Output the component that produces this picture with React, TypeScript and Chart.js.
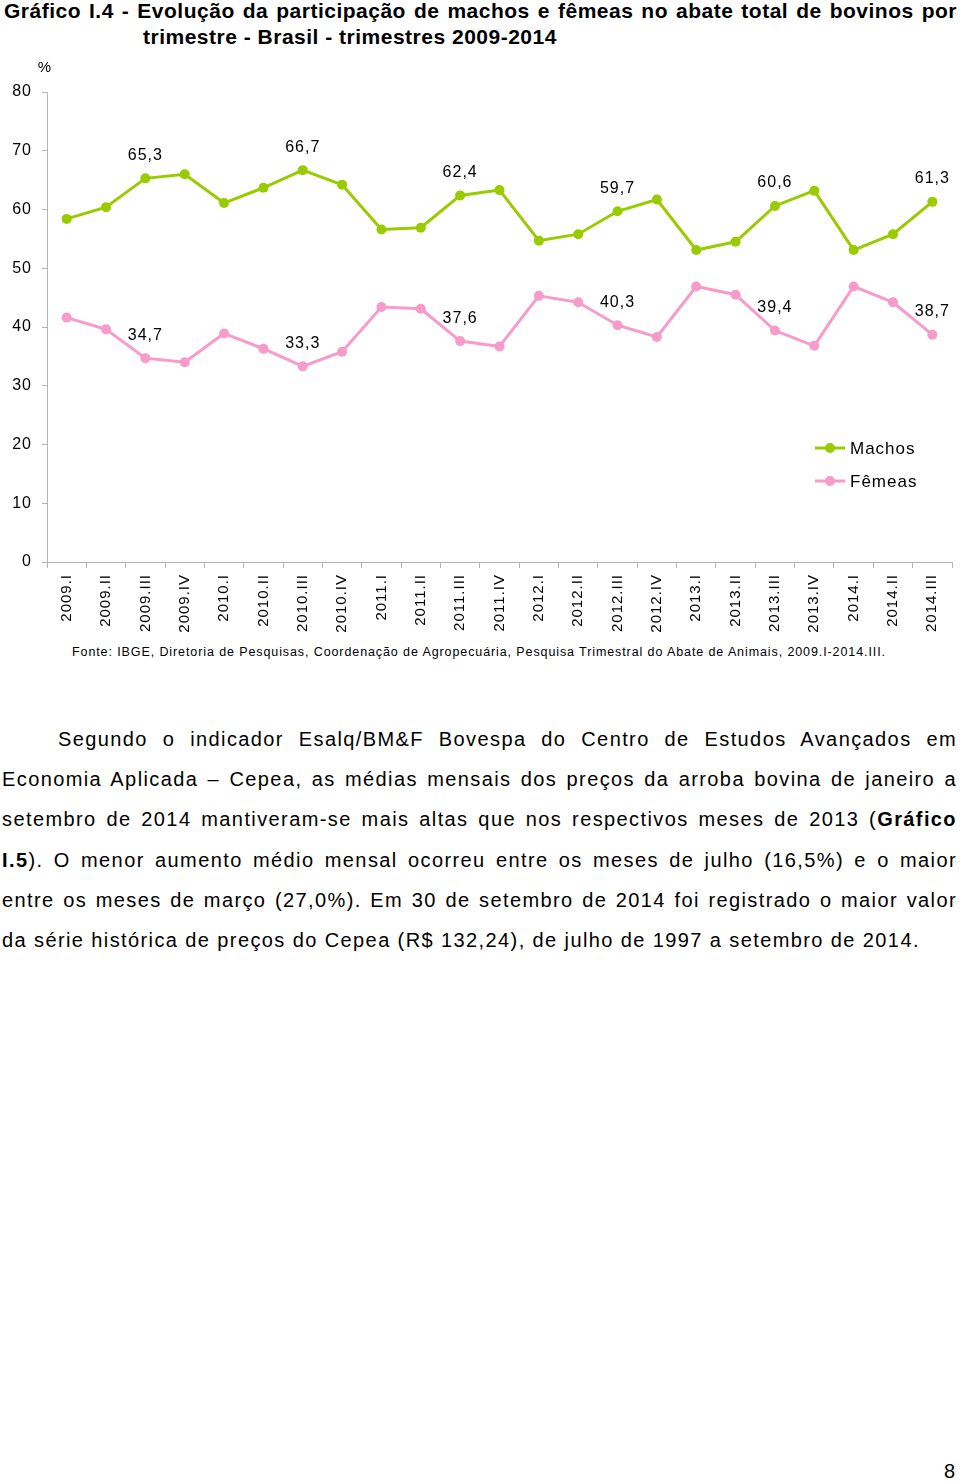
import React, { useEffect, useRef } from "react";
import { Chart, registerables } from "chart.js";

Chart.register(...registerables);

const categories = [
  "2009.I", "2009.II", "2009.III", "2009.IV",
  "2010.I", "2010.II", "2010.III", "2010.IV",
  "2011.I", "2011.II", "2011.III", "2011.IV",
  "2012.I", "2012.II", "2012.III", "2012.IV",
  "2013.I", "2013.II", "2013.III", "2013.IV",
  "2014.I", "2014.II", "2014.III",
];

const machos = [
  58.4, 60.4, 65.3, 66.0,
  61.1, 63.7, 66.7, 64.2,
  56.6, 56.9, 62.4, 63.3,
  54.7, 55.8, 59.7, 61.7,
  53.1, 54.5, 60.6, 63.2,
  53.1, 55.8, 61.3,
];

const femeas = [
  41.6, 39.6, 34.7, 34.0,
  38.9, 36.3, 33.3, 35.8,
  43.4, 43.1, 37.6, 36.7,
  45.3, 44.2, 40.3, 38.3,
  46.9, 45.5, 39.4, 36.8,
  46.9, 44.2, 38.7,
];

// indices of the points that carry a value label
const labelledIdx = [2, 6, 10, 14, 18, 22];

const yTicks = { min: 0, max: 80, step: 10 };

const seriesNames = ["Machos", "Fêmeas"];
const seriesColors = ["#99CC00", "#F79BCB"];

const FONT = "'Liberation Sans', Arial, Helvetica, sans-serif";

const fmt = (v: number) => v.toFixed(1).replace(".", ",");

const spacingPlugin = {
  id: "spacing",
  beforeUpdate(chart: any) {
    try { chart.ctx.letterSpacing = "1px"; } catch (e) {}
  },
  beforeDraw(chart: any) {
    try { chart.ctx.letterSpacing = "1px"; } catch (e) {}
  },
};

const extrasPlugin = {
  id: "extras",
  afterDatasetsDraw(chart: any) {
    const ctx = chart.ctx;
    const area = chart.chartArea;
    ctx.save();
    try { ctx.letterSpacing = "1px"; } catch (e) {}
    ctx.fillStyle = "#000";
    // value labels
    ctx.font = `16px ${FONT}`;
    ctx.textAlign = "center";
    ctx.textBaseline = "middle";
    chart.data.datasets.forEach((ds: any, di: number) => {
      const meta = chart.getDatasetMeta(di);
      labelledIdx.forEach((i) => {
        const pt = meta.data[i];
        ctx.fillText(fmt(ds.data[i]), pt.x, pt.y - 23);
      });
    });
    // "%" unit
    ctx.font = `15px ${FONT}`;
    ctx.fillText("%", area.left - 2, area.top - 24);
    // legend
    const lx = area.right - 137;
    const rows = [area.top + 356, area.top + 389];
    chart.data.datasets.forEach((ds: any, di: number) => {
      const y = rows[di];
      ctx.strokeStyle = ds.borderColor;
      ctx.lineWidth = 3;
      ctx.beginPath();
      ctx.moveTo(lx, y);
      ctx.lineTo(lx + 30, y);
      ctx.stroke();
      ctx.fillStyle = ds.borderColor;
      ctx.beginPath();
      ctx.arc(lx + 15, y, 5, 0, Math.PI * 2);
      ctx.fill();
      ctx.fillStyle = "#000";
      ctx.font = `17px ${FONT}`;
      ctx.textAlign = "left";
      ctx.fillText(ds.label, lx + 35, y + 1);
    });
    ctx.restore();
  },
};

function LineChart() {
  const ref = useRef<HTMLCanvasElement | null>(null);
  useEffect(() => {
    if (!ref.current) return;
    const chart = new Chart(ref.current, {
      type: "line",
      data: {
        labels: categories,
        datasets: [machos, femeas].map((d, i) => ({
          label: seriesNames[i],
          data: d,
          borderColor: seriesColors[i],
          backgroundColor: seriesColors[i],
          pointBackgroundColor: seriesColors[i],
          pointBorderWidth: 0,
          pointRadius: 5,
          borderWidth: 3,
          tension: 0,
          fill: false,
        })),
      },
      options: {
        animation: false,
        responsive: true,
        maintainAspectRatio: false,
        layout: { padding: { top: 32, right: 8, left: 0, bottom: 0 } },
        plugins: {
          legend: { display: false },
          tooltip: { enabled: false },
          title: { display: false },
        },
        scales: {
          x: {
            type: "category",
            offset: true,
            grid: {
              display: true,
              drawOnChartArea: false,
              drawTicks: true,
              tickLength: 6,
              color: "#b5b5b5",
              offset: true,
            },
            border: { display: true, color: "#b5b5b5", width: 1 },
            ticks: {
              autoSkip: false,
              minRotation: 90,
              maxRotation: 90,
              padding: 6,
              color: "#000",
              font: { family: FONT, size: 15 },
            },
            afterFit: (s: any) => { s.height = 78; },
          },
          y: {
            min: yTicks.min,
            max: yTicks.max,
            ticks: {
              stepSize: yTicks.step,
              padding: 10,
              color: "#000",
              font: { family: FONT, size: 16 },
            },
            grid: {
              display: true,
              drawOnChartArea: false,
              drawTicks: true,
              tickLength: 5,
              color: "#b5b5b5",
            },
            border: { display: true, color: "#b5b5b5", width: 1 },
            afterFit: (s: any) => { s.width = 47; },
          },
        },
      },
      plugins: [spacingPlugin, extrasPlugin],
    } as any);
    return () => chart.destroy();
  }, []);
  return <canvas ref={ref} />;
}

const paraLines: React.ReactNode[] = [
  "Segundo o indicador Esalq/BM&F Bovespa do Centro de Estudos Avançados em",
  "Economia Aplicada – Cepea, as médias mensais dos preços da arroba bovina de janeiro a",
  <>setembro de 2014 mantiveram-se mais altas que nos respectivos meses de 2013 (<b>Gráfico</b></>,
  <><b>I.5</b>). O menor aumento médio mensal ocorreu entre os meses de julho (16,5%) e o maior</>,
  "entre os meses de março (27,0%). Em 30 de setembro de 2014 foi registrado o maior valor",
  "da série histórica de preços do Cepea (R$ 132,24), de julho de 1997 a setembro de 2014.",
];

export default function App() {
  const justify: React.CSSProperties = {
    textAlign: "justify",
    textAlignLast: "justify" as any,
    whiteSpace: "nowrap",
  };
  return (
    <div
      style={{
        position: "absolute",
        left: 0,
        top: 0,
        width: 960,
        height: 1482,
        background: "#fff",
        color: "#000",
        fontFamily: FONT,
        overflow: "hidden",
      }}
    >
      <div
        style={{
          position: "absolute",
          left: 4,
          top: -2,
          width: 953,
          fontWeight: "bold",
          fontSize: 21,
          lineHeight: "26px",
          letterSpacing: 0.5,
        }}
      >
        <div style={justify}>
          Gráfico I.4 - Evolução da participação de machos e fêmeas no abate total de bovinos por
        </div>
        <div style={{ paddingLeft: 139 }}>trimestre - Brasil - trimestres 2009-2014</div>
      </div>

      <div style={{ position: "absolute", left: 0, top: 60, width: 960, height: 580 }}>
        <LineChart />
      </div>

      <div
        style={{
          position: "absolute",
          left: 72,
          top: 644,
          fontSize: 12.5,
          letterSpacing: 0.9,
          lineHeight: "16px",
          whiteSpace: "nowrap",
        }}
      >
        Fonte: IBGE, Diretoria de Pesquisas, Coordenação de Agropecuária, Pesquisa Trimestral do Abate de Animais, 2009.I-2014.III.
      </div>

      <div
        style={{
          position: "absolute",
          left: 2,
          top: 719,
          width: 955,
          fontSize: 20,
          letterSpacing: 1.4,
          lineHeight: "40.2px",
        }}
      >
        {paraLines.map((ln, i) => (
          <div
            key={i}
            style={
              i === paraLines.length - 1
                ? { whiteSpace: "nowrap" }
                : { ...justify, textIndent: i === 0 ? 56 : 0 }
            }
          >
            {ln}
          </div>
        ))}
      </div>

      <div style={{ position: "absolute", left: 944, top: 1460, fontSize: 20 }}>8</div>
    </div>
  );
}
